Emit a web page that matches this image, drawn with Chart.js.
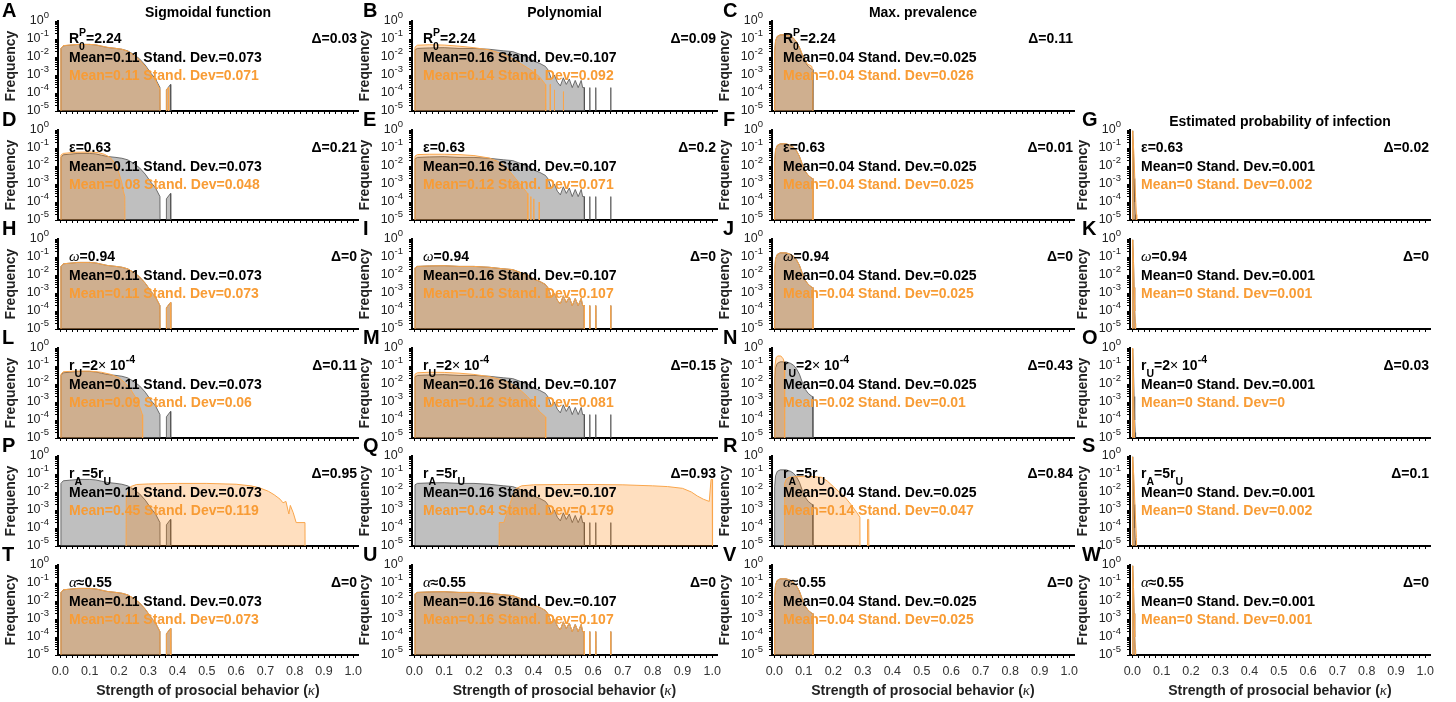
<!DOCTYPE html>
<html>
<head>
<meta charset="utf-8">
<script src="https://cdn.jsdelivr.net/npm/chart.js@4.4.1/dist/chart.umd.min.js"></script>
<style>
  html, body { margin: 0; padding: 0; background: #fff; }
  body { position: relative; width: 1456px; height: 702px; overflow: hidden; }
  canvas { position: absolute; }
</style>
</head>
<body>
<script>
// Histograms of kappa: [kappa, frequency] pairs, 0 = empty bin.
// Baseline distributions (gray), one per column.
const sigmoidBase = [[0,0],[0.002,0.03],[0.01,0.042],[0.03,0.045],[0.06,0.05],[0.1,0.05],[0.12,0.047],[0.14,0.04],[0.16,0.034],[0.19,0.03],[0.21,0.027],[0.23,0.022],[0.25,0.014],[0.27,0.008],[0.29,0.0035],[0.31,0.0012],[0.325,6e-4],[0.34,2e-4],[0.341,0],[0.361,0],[0.362,1.5e-4],[0.376,3e-4],[0.377,0]];
const polyBase = [[0,0],[0.002,0.025],[0.01,0.03],[0.05,0.032],[0.1,0.033],[0.15,0.03],[0.2,0.03],[0.25,0.027],[0.3,0.022],[0.33,0.02],[0.36,0.013],[0.38,0.01],[0.4,0.006],[0.42,0.0045],[0.44,0.003],[0.45,0.0018],[0.46,6e-4],[0.47,0.001],[0.48,4e-4],[0.49,2.5e-4],[0.5,7e-4],[0.51,3e-4],[0.52,6e-4],[0.53,2e-4],[0.54,5e-4],[0.55,2e-4],[0.56,5e-4],[0.565,2e-4],[0.57,2e-4],[0.571,0],[0.588,0],[0.589,2e-4],[0.59,0],[0.608,0],[0.609,2e-4],[0.61,0],[0.658,0],[0.659,2e-4],[0.66,0]];
const prevBase = [[0,0],[0.001,0.02],[0.004,0.08],[0.01,0.14],[0.02,0.17],[0.04,0.17],[0.055,0.14],[0.065,0.11],[0.075,0.07],[0.085,0.035],[0.095,0.012],[0.105,0.005],[0.115,0.003],[0.125,0.0022],[0.13,0.002],[0.131,0]];
const probBase = [[0,0],[0.0005,0.9],[0.002,0.6],[0.004,0.05],[0.006,0.002],[0.008,1e-4],[0.01,2e-5],[0.011,0]];

// Perturbed distributions (orange)
const sigmoidR0 = [[0,0],[0.002,0.03],[0.01,0.043],[0.03,0.046],[0.06,0.05],[0.1,0.05],[0.12,0.048],[0.14,0.041],[0.16,0.035],[0.19,0.03],[0.21,0.027],[0.23,0.021],[0.25,0.013],[0.27,0.007],[0.29,0.003],[0.31,0.001],[0.325,5e-4],[0.34,1.5e-4],[0.341,0],[0.361,0],[0.362,1.5e-4],[0.369,2e-4],[0.37,0]];
const polyR0 = [[0,0],[0.002,0.035],[0.01,0.045],[0.05,0.048],[0.1,0.046],[0.15,0.04],[0.2,0.033],[0.25,0.025],[0.28,0.018],[0.3,0.014],[0.33,0.008],[0.36,0.004],[0.38,0.0025],[0.4,0.0015],[0.42,8e-4],[0.44,3e-4],[0.441,0],[0.455,0],[0.456,3e-4],[0.457,0],[0.469,0],[0.47,1.5e-4],[0.471,0],[0.499,0],[0.5,1.2e-4],[0.501,0]];
const prevR0 = [[0,0],[0.001,0.02],[0.004,0.08],[0.01,0.14],[0.02,0.17],[0.04,0.17],[0.055,0.14],[0.065,0.11],[0.075,0.07],[0.085,0.035],[0.095,0.014],[0.105,0.007],[0.112,0.004],[0.12,0.0035],[0.127,0.003],[0.13,0.0015],[0.132,0]];

const sigmoidEps = [[0,0],[0.002,0.04],[0.01,0.05],[0.05,0.058],[0.1,0.06],[0.13,0.055],[0.15,0.045],[0.17,0.03],[0.19,0.012],[0.2,0.004],[0.21,0.0012],[0.215,4e-4],[0.22,2e-4],[0.221,0]];
const polyEps = [[0,0],[0.002,0.035],[0.01,0.043],[0.05,0.045],[0.1,0.045],[0.15,0.043],[0.2,0.038],[0.25,0.028],[0.28,0.018],[0.3,0.011],[0.32,0.005],[0.34,0.002],[0.36,8e-4],[0.38,3e-4],[0.381,0],[0.39,0],[0.391,2e-4],[0.392,0],[0.4,0],[0.401,1.5e-4],[0.402,0],[0.418,0],[0.419,1e-4],[0.42,0]];
const prevEps = [[0,0],[0.001,0.02],[0.004,0.08],[0.01,0.14],[0.02,0.17],[0.04,0.17],[0.055,0.14],[0.065,0.11],[0.075,0.07],[0.085,0.035],[0.095,0.012],[0.105,0.005],[0.115,0.003],[0.125,0.0022],[0.13,0.002],[0.131,0]];
const probEps = [[0,0],[0.0005,0.9],[0.002,0.6],[0.005,0.06],[0.008,0.003],[0.011,2e-4],[0.014,2e-5],[0.015,0]];

const sigmoidRU = [[0,0],[0.002,0.035],[0.01,0.048],[0.05,0.052],[0.1,0.052],[0.14,0.045],[0.17,0.035],[0.2,0.022],[0.22,0.012],[0.24,0.005],[0.26,0.0015],[0.27,6e-4],[0.28,2e-4],[0.281,0]];
const polyRU = [[0,0],[0.002,0.035],[0.01,0.042],[0.05,0.045],[0.1,0.044],[0.15,0.04],[0.2,0.034],[0.25,0.026],[0.3,0.016],[0.33,0.009],[0.36,0.004],[0.38,0.002],[0.4,8e-4],[0.42,3e-4],[0.44,1.5e-4],[0.441,0]];
const prevRU = [[0,0],[0.002,0.1],[0.006,0.3],[0.012,0.36],[0.022,0.36],[0.03,0.25],[0.034,0.15],[0.035,0]];
const probRU = [[0,0],[0.0005,1],[0.002,0.5],[0.004,0.01],[0.006,1e-4],[0.007,0]];

const sigmoidRA = [[0.224,0],[0.225,0.004],[0.232,0.012],[0.24,0.02],[0.26,0.026],[0.3,0.028],[0.4,0.03],[0.5,0.03],[0.6,0.027],[0.65,0.022],[0.68,0.017],[0.71,0.011],[0.73,0.007],[0.75,0.004],[0.76,0.0025],[0.77,0.003],[0.78,6e-4],[0.785,0.0018],[0.795,7e-4],[0.805,2e-4],[0.835,2e-4],[0.836,0]];
const polyRA = [[0.284,0],[0.285,2e-4],[0.3,2e-4],[0.31,6e-4],[0.32,0.002],[0.33,0.006],[0.34,0.015],[0.36,0.022],[0.4,0.025],[0.5,0.026],[0.6,0.026],[0.7,0.025],[0.8,0.022],[0.85,0.02],[0.9,0.016],[0.93,0.01],[0.95,0.006],[0.97,0.004],[0.99,0.003],[0.996,0.05],[1.0,0.05],[1.001,0]];
const prevRA = [[0.034,0],[0.035,0.03],[0.04,0.05],[0.05,0.065],[0.07,0.07],[0.1,0.075],[0.13,0.072],[0.16,0.065],[0.18,0.04],[0.2,0.02],[0.22,0.01],[0.24,0.005],[0.26,0.002],[0.28,7e-4],[0.29,4e-4],[0.291,0],[0.315,0],[0.316,3e-4],[0.32,3e-4],[0.321,0]];
const probRA = [[0,0],[0.0005,0.9],[0.002,0.6],[0.005,0.08],[0.008,0.004],[0.011,3e-4],[0.014,3e-5],[0.016,0]];

const baseSeries = [sigmoidBase, polyBase, prevBase, probBase];
const gridSeries = [
  [sigmoidR0, polyR0, prevR0, null],
  [sigmoidEps, polyEps, prevEps, probEps],
  [sigmoidBase, polyBase, prevBase, probBase],
  [sigmoidRU, polyRU, prevRU, probRU],
  [sigmoidRA, polyRA, prevRA, probRA],
  [sigmoidBase, polyBase, prevBase, probBase]
];

const columnTitles = ['Sigmoidal function', 'Polynomial', 'Max. prevalence', 'Estimated probability of infection'];
const gridLetters = [['A','B','C',null],['D','E','F','G'],['H','I','J','K'],['L','M','N','O'],['P','Q','R','S'],['T','U','V','W']];
const gridDeltas = [['0.03','0.09','0.11',null],['0.21','0.2','0.01','0.02'],['0','0','0','0'],['0.11','0.15','0.43','0.03'],['0.95','0.93','0.84','0.1'],['0','0','0','0']];
const baseMeans = ['0.11', '0.16', '0.04', '0'];
const baseSds = ['0.073', '0.107', '0.025', '0.001'];
const gridMeans = [['0.11','0.14','0.04',null],['0.08','0.12','0.04','0'],['0.11','0.16','0.04','0'],['0.09','0.12','0.02','0'],['0.45','0.64','0.14','0'],['0.11','0.16','0.04','0']];
const gridSds = [['0.071','0.092','0.026',null],['0.048','0.071','0.025','0.002'],['0.073','0.107','0.025','0.001'],['0.06','0.081','0.01','0'],['0.119','0.179','0.047','0.002'],['0.073','0.107','0.025','0.001']];

// parameter label of each row, as [text, style] runs
const rowParams = [
  [['R','n'],['0','subh'],['P','sup'],['=2.24','n']],
  [['ε=0.63','n']],
  [['ω','i'],['=0.94','n']],
  [['r','n'],['U','sub'],['=2','n'],['×','x'],[' 10','n'],['-4','sup']],
  [['r','n'],['A','sub'],['=5r','n'],['U','sub']],
  [['α','i'],['≈0.55','n']]
];

const xTickLabels = ['0.0','0.1','0.2','0.3','0.4','0.5','0.6','0.7','0.8','0.9','1.0'];
const yExponents = [0, -1, -2, -3, -4, -5];
const xAxisTitle = [['Strength of prosocial behavior (','n'],['κ','i'],[')','n']];

// ---- layout ----
const FONT = '"Liberation Sans", Arial, Helvetica, sans-serif';
const ORANGE_TEXT = '#f89c35';
const rowZero = [21, 130, 239, 348, 456, 565];   // pixel of 10^0 in each row
const colLeft = [58, 412, 772, 1130];
const colWidth = [300, 305, 302, 300];
const letterX = [2, 363, 723, 1082];
const PLOT_H = 90, TOP_PAD = 22, Y_AXIS_W = 60, RIGHT_PAD = 4;
const X_MIN = -0.008, X_MAX = 1.016;

const RICH = {
  n: { font: `bold 14px ${FONT}`, dy: 0 },
  sub: { font: `bold 10.5px ${FONT}`, dy: 8 },
  subh: { font: `bold 10.5px ${FONT}`, dy: 8, hold: true },
  sup: { font: `bold 10.5px ${FONT}`, dy: -6 },
  i: { font: 'italic 15px "Liberation Serif", serif', dy: 0 },
  x: { font: `14px ${FONT}`, dy: 0 }
};

function layoutRich(ctx, parts, draw, x, y) {
  let cx = x, hold = 0;
  for (const [t, k] of parts) {
    const st = RICH[k];
    ctx.font = st.font;
    const w = ctx.measureText(t).width;
    if (draw) ctx.fillText(t, cx, y + st.dy);
    if (st.hold) {
      hold = w;
    } else {
      cx += Math.max(w, hold);
      hold = 0;
    }
  }
  return cx - x;
}

const panelText = {
  id: 'panelText',
  afterDraw(chart, args, o) {
    const { ctx, chartArea: a } = chart;
    const y = chart.scales.y, x = chart.scales.x;
    ctx.save();
    ctx.textBaseline = 'middle';
    ctx.textAlign = 'left';

    // y tick labels 10^k
    ctx.fillStyle = '#222';
    yExponents.forEach((e) => {
      const py = y.getPixelForValue(Math.pow(10, e));
      const ex = String(e);
      ctx.font = `9.5px ${FONT}`;
      const we = ctx.measureText(ex).width;
      ctx.font = `12.5px ${FONT}`;
      const wb = ctx.measureText('10').width;
      const right = a.left - 9;
      ctx.fillText('10', right - we - wb, py);
      ctx.font = `9.5px ${FONT}`;
      ctx.fillText(ex, right - we, py - 6);
    });

    // y axis title
    ctx.save();
    ctx.translate(a.left - 47, (a.top + a.bottom) / 2);
    ctx.rotate(-Math.PI / 2);
    ctx.textAlign = 'center';
    ctx.font = `bold 14px ${FONT}`;
    ctx.fillText('Frequency', 0, 0);
    ctx.restore();

    // panel letter and column title
    ctx.fillStyle = '#000';
    ctx.font = `bold 20px ${FONT}`;
    ctx.fillText(o.letter, o.letterX, a.top - 10);
    if (o.title) {
      ctx.textAlign = 'center';
      ctx.font = `bold 14px ${FONT}`;
      ctx.fillText(o.title, (a.left + a.right) / 2, a.top - 8);
      ctx.textAlign = 'left';
    }

    // parameter, delta and summary statistics
    const y1 = y.getPixelForValue(0.1), y2 = y.getPixelForValue(0.01) + 1, y3 = y.getPixelForValue(0.001) + 1;
    layoutRich(ctx, o.param, true, a.left + 11, y1);
    const dText = [['Δ=' + o.delta, 'n']];
    const dw = layoutRich(ctx, dText, false, 0, 0);
    layoutRich(ctx, dText, true, a.right - dw - 1, y1);
    ctx.font = `bold 14px ${FONT}`;
    ctx.fillText(o.baseStat, a.left + 11, y2);
    ctx.fillStyle = ORANGE_TEXT;
    ctx.fillText(o.stat, a.left + 11, y3);

    // x tick labels and axis title on the bottom row
    if (o.bottom) {
      ctx.fillStyle = '#333';
      ctx.textAlign = 'center';
      ctx.font = `12.5px ${FONT}`;
      xTickLabels.forEach((lab) => {
        ctx.fillText(lab, x.getPixelForValue(parseFloat(lab)), a.bottom + 17);
      });
      ctx.textAlign = 'left';
      ctx.fillStyle = '#222';
      const tw = layoutRich(ctx, xAxisTitle, false, 0, 0);
      layoutRich(ctx, xAxisTitle, true, (a.left + a.right) / 2 - tw / 2, a.bottom + 36);
    }
    ctx.restore();
  }
};

// empty bins sit below the axis floor so the log scale can draw them
const toPoints = (pairs) => pairs.map(([k, f]) => ({ x: k, y: f > 0 ? f : 1e-7 }));

const xMinorTicks = [];
for (let i = 0; i <= 50; i += 1) xMinorTicks.push(Number((i * 0.02).toFixed(2)));
const yMinorTicks = [1];
for (let e = -5; e < 0; e += 1) {
  for (let m = 1; m < 10; m += 1) yMinorTicks.push(m * Math.pow(10, e));
}

const axisGrid = { display: true, drawOnChartArea: false, drawTicks: true, tickLength: 3, color: '#000', lineWidth: 1 };
const axisBorder = { display: true, color: '#000', width: 2 };

function makePanel(r, c) {
  const bottom = r === gridLetters.length - 1;
  const xh = bottom ? 47 : 5;
  const W = Y_AXIS_W + colWidth[c] + RIGHT_PAD;
  const H = TOP_PAD + PLOT_H + xh;
  const left = colLeft[c] - Y_AXIS_W;
  const cv = document.createElement('canvas');
  cv.width = W;
  cv.height = H;
  cv.style.left = left + 'px';
  cv.style.top = (rowZero[r] - TOP_PAD) + 'px';
  cv.style.width = W + 'px';
  cv.style.height = H + 'px';
  document.body.appendChild(cv);

  const titleRow = c === 3 ? 1 : 0;

  new Chart(cv, {
    type: 'line',
    data: {
      datasets: [
        {
          label: 'baseline',
          data: toPoints(baseSeries[c]),
          order: 2,
          borderColor: '#505050',
          borderWidth: 0.8,
          backgroundColor: 'rgba(128,128,128,0.5)',
          fill: 'start',
          pointRadius: 0,
          tension: 0
        },
        {
          label: 'perturbed',
          data: toPoints(gridSeries[r][c]),
          order: 1,
          borderColor: '#f9a64c',
          borderWidth: 1,
          backgroundColor: 'rgba(255,128,0,0.25)',
          fill: 'start',
          pointRadius: 0,
          tension: 0
        }
      ]
    },
    options: {
      responsive: false,
      animation: false,
      devicePixelRatio: 1,
      layout: { padding: { left: 0, right: RIGHT_PAD, top: TOP_PAD, bottom: 0 } },
      plugins: {
        legend: { display: false },
        tooltip: { enabled: false },
        panelText: {
          letter: gridLetters[r][c],
          letterX: letterX[c] - left,
          title: r === titleRow ? columnTitles[c] : null,
          param: rowParams[r],
          delta: gridDeltas[r][c],
          baseStat: `Mean=${baseMeans[c]} Stand. Dev.=${baseSds[c]}`,
          stat: `Mean=${gridMeans[r][c]} Stand. Dev=${gridSds[r][c]}`,
          bottom
        }
      },
      scales: {
        x: {
          type: 'linear',
          min: X_MIN,
          max: X_MAX,
          afterFit: (s) => { s.height = xh; },
          afterBuildTicks: (s) => { s.ticks = xMinorTicks.map((v) => ({ value: v })); },
          ticks: { display: false },
          grid: axisGrid,
          border: axisBorder
        },
        y: {
          type: 'logarithmic',
          min: 1e-5,
          max: 1,
          afterFit: (s) => { s.width = Y_AXIS_W; },
          afterBuildTicks: (s) => { s.ticks = yMinorTicks.map((v) => ({ value: v })); },
          ticks: { display: false },
          grid: axisGrid,
          border: axisBorder
        }
      }
    },
    plugins: [panelText]
  });
}

gridLetters.forEach((row, r) => {
  row.forEach((letter, c) => {
    if (letter) makePanel(r, c);
  });
});
</script>
</body>
</html>
